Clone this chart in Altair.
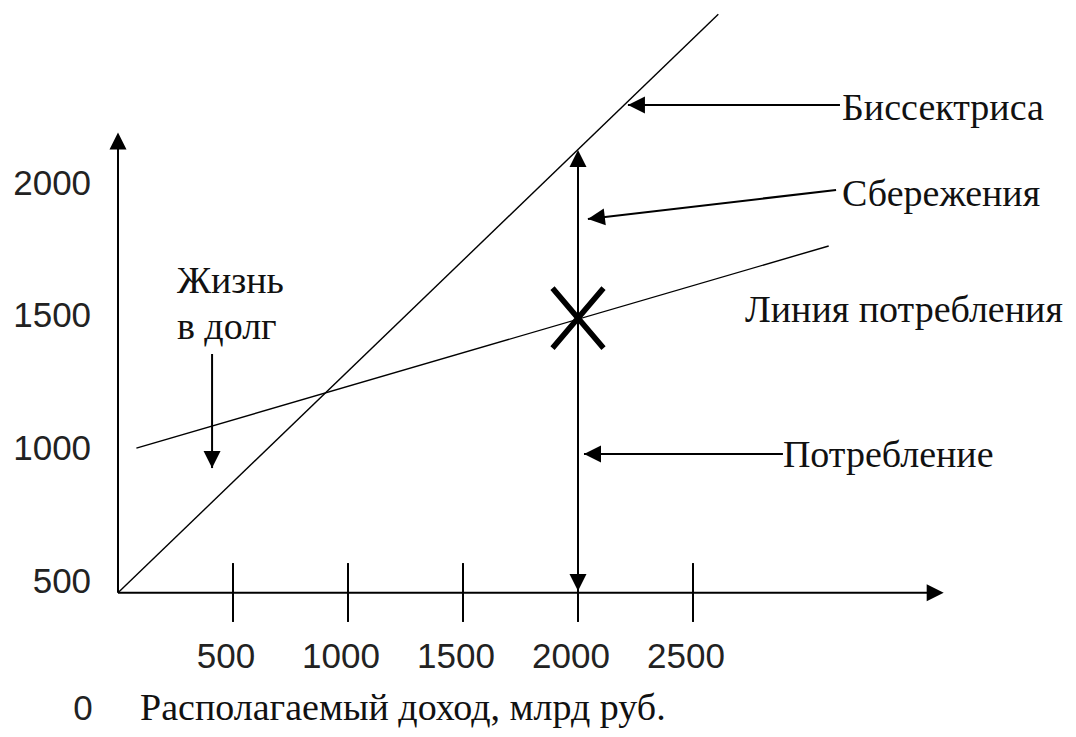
import altair as alt
import pandas as pd

# ---- values (data units) ----
x_ticks = [500, 1000, 1500, 2000, 2500]
y_ticks = [500, 1000, 1500, 2000]
x_tick_labels = ["500", "1000", "1500", "2000", "2500"]
y_tick_labels = ["500", "1000", "1500", "2000"]

origin_x, origin_y = 0, 450          # where the two axes meet
x_axis_end = 3590                    # tip of the x-axis arrow
y_axis_end = 2185                    # tip of the y-axis arrow

bisector_x = [0, 2610]
bisector_y = [450, 2630]
consumption_x = [80, 3090]
consumption_y = [995, 1757]

equilibrium_x = [2000]
equilibrium_y = [1485]

income_x = 2000
income_arrow_y = [457, 2119]         # double arrow at income 2000

# annotation arrows: start (x, y) -> tip (x, y)
arrow_names = ["Биссектриса", "Сбережения", "Потребление", "Жизнь в долг"]
arrow_start_x = [3139, 3122, 2891, 409]
arrow_start_y = [2288, 1968, 973, 1350]
arrow_tip_x = [2217, 2043, 2026, 409]
arrow_tip_y = [2288, 1859, 973, 920]
arrow_angle = [270, 263.3, 270, 180]

texts = ["Биссектриса", "Сбережения", "Линия потребления", "Потребление",
         "Жизнь", "в долг", "Располагаемый доход, млрд руб."]
text_x = [3148, 3148, 2726, 2891, 256, 256, 96]
text_y = [2232, 1906, 1470, 924, 1580, 1408, -30]

zero_label = "0"
zero_x, zero_y = -152, -28

# ---- scales ----
XD = [-478.26, 4130.43]
YD = [-63.4, 2653.9]
SX = alt.Scale(domain=XD, nice=False, zero=False)
SY = alt.Scale(domain=YD, nice=False, zero=False)

SERIF = "Liberation Serif"
SANS = "Liberation Sans Narrow, Liberation Sans"

def X(f="x"):
    return alt.X(f"{f}:Q", scale=SX, axis=None)

def Y(f="y"):
    return alt.Y(f"{f}:Q", scale=SY, axis=None)

# thin lines: bisector and consumption line
thin = pd.DataFrame({
    "x": [bisector_x[0], consumption_x[0]],
    "y": [bisector_y[0], consumption_y[0]],
    "x2": [bisector_x[1], consumption_x[1]],
    "y2": [bisector_y[1], consumption_y[1]],
})
thin_layer = alt.Chart(thin).mark_rule(color="black", strokeWidth=1.4).encode(
    x=X(), y=Y(), x2="x2:Q", y2="y2:Q")

# thick segments: axes, ticks, arrow shafts
seg_rows = [
    (origin_x, origin_y, x_axis_end - 40, origin_y),
    (origin_x, origin_y, origin_x, y_axis_end - 40),
    (income_x, income_arrow_y[0] + 40, income_x, income_arrow_y[1] - 40),
]
for t in x_ticks:
    seg_rows.append((t, 340, t, 562))
for sx, sy, tx, ty in zip(arrow_start_x, arrow_start_y, arrow_tip_x, arrow_tip_y):
    seg_rows.append((sx, sy, tx, ty))
segs = pd.DataFrame(seg_rows, columns=["x", "y", "x2", "y2"])
seg_layer = alt.Chart(segs).mark_rule(color="black", strokeWidth=2).encode(
    x=X(), y=Y(), x2="x2:Q", y2="y2:Q")

# arrow heads (tip at the point, rotated by angle)
heads = pd.DataFrame({
    "x": [x_axis_end, origin_x, income_x, income_x] + arrow_tip_x,
    "y": [origin_y, y_axis_end, income_arrow_y[1], income_arrow_y[0]] + arrow_tip_y,
    "angle": [90, 0, 0, 180] + arrow_angle,
})
head_layer = alt.Chart(heads).mark_point(
    shape="M0,0L0.5,1L-0.5,1Z", filled=True, color="black", opacity=1,
    size=1156, strokeWidth=0).encode(
    x=X(), y=Y(), angle=alt.Angle("angle:Q", scale=None))

# equilibrium cross
cross = pd.DataFrame({"x": equilibrium_x, "y": equilibrium_y})
cross_layer = alt.Chart(cross).mark_point(
    shape="M-0.85,-1L0.85,1M0.85,-1L-0.85,1", filled=False, color="black",
    opacity=1, size=3600, strokeWidth=5.5).encode(x=X(), y=Y())

# tick labels
xl = pd.DataFrame({"x": x_ticks, "y": [166] * len(x_ticks), "t": x_tick_labels})
xl_layer = alt.Chart(xl).mark_text(
    font=SANS, fontSize=35, align="center", baseline="alphabetic", dx=-7,
    color="#222").encode(x=X(), y=Y(), text="t:N")

yl = pd.DataFrame({"x": [-117] * len(y_ticks), "y": y_ticks, "t": y_tick_labels})
yl_layer = alt.Chart(yl).mark_text(
    font=SANS, fontSize=35, align="right", baseline="middle", dy=2,
    color="#222").encode(x=X(), y=Y(), text="t:N")

zl = pd.DataFrame({"x": [zero_x], "y": [zero_y], "t": [zero_label]})
zl_layer = alt.Chart(zl).mark_text(
    font=SANS, fontSize=35, align="center", baseline="alphabetic",
    color="#222").encode(x=X(), y=Y(), text="t:N")

tx = pd.DataFrame({"x": text_x, "y": text_y, "t": texts})
tx_layer = alt.Chart(tx).mark_text(
    font=SERIF, fontSize=38, align="left", baseline="alphabetic",
    color="#111").encode(x=X(), y=Y(), text="t:N")

chart = alt.layer(
    thin_layer, seg_layer, head_layer, cross_layer,
    xl_layer, yl_layer, zl_layer, tx_layer
).properties(
    width=1060, height=721, padding=0,
    autosize=alt.AutoSizeParams(type="none"),
    background="white",
).configure_view(stroke=None)

chart.save("out.html", embed_options={"renderer": "svg", "actions": False})
